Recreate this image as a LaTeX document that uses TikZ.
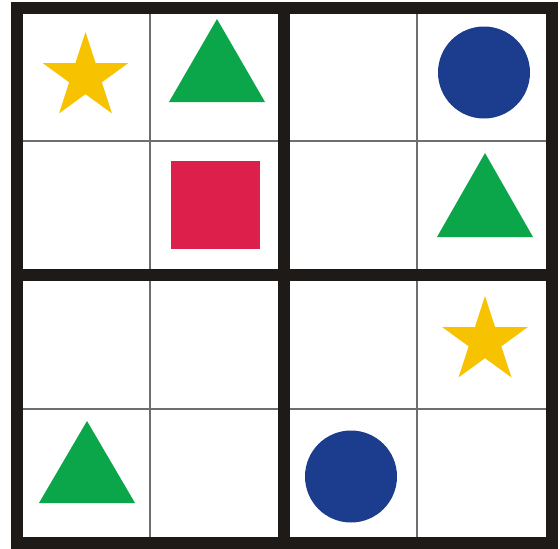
\documentclass[tikz,border=0pt]{standalone}
\usetikzlibrary{shapes.geometric}
\definecolor{starY}{HTML}{F7C200}
\definecolor{triG}{HTML}{0BA54A}
\definecolor{circB}{HTML}{1C3D8D}
\definecolor{sqR}{HTML}{DC1F4B}
\definecolor{lineK}{HTML}{1E1A18}
\definecolor{thinG}{HTML}{6E6E6E}
\tikzset{
  thinline/.style={draw=thinG, line width=1.3pt},
  thickline/.style={draw=lineK, line width=12pt},
  starshape/.style={star, star points=5, star point ratio=2.618, minimum size=90pt, inner sep=0pt, fill=starY, draw=none},
  tri/.style={fill=triG},
  disc/.style={fill=circB},
  sq/.style={fill=sqR}
}
\begin{document}
\begin{tikzpicture}[x=1pt,y=-1pt]
\useasboundingbox (0,0) rectangle (560,549);
\fill[white] (0,0) rectangle (560,549);
% thin lines
\draw[thinline] (150,13) -- (150,537);
\draw[thinline] (417,13) -- (417,537);
\draw[thinline] (22,141) -- (546,141);
\draw[thinline] (22,409) -- (546,409);
% thick lines
\draw[thickline] (16.5,7.5) rectangle (551.5,542.5);
\draw[thickline] (284,7.5) -- (284,542.5);
\draw[thickline] (16.5,275) -- (551.5,275);
% shapes
\node[starshape] (s1) at (85.5,77) {};
\node[starshape] (s2) at (485,341) {};
\fill[tri] (169,102) -- (265,102) -- (217,19) -- cycle;
\fill[tri] (437,237) -- (533,237) -- (485,153) -- cycle;
\fill[tri] (39,503) -- (135,503) -- (87,421) -- cycle;
\fill[disc] (484,72.5) circle (46);
\fill[disc] (351,476.5) circle (46);
\fill[sq] (171,161) rectangle (260,249);
\end{tikzpicture}
\end{document}
